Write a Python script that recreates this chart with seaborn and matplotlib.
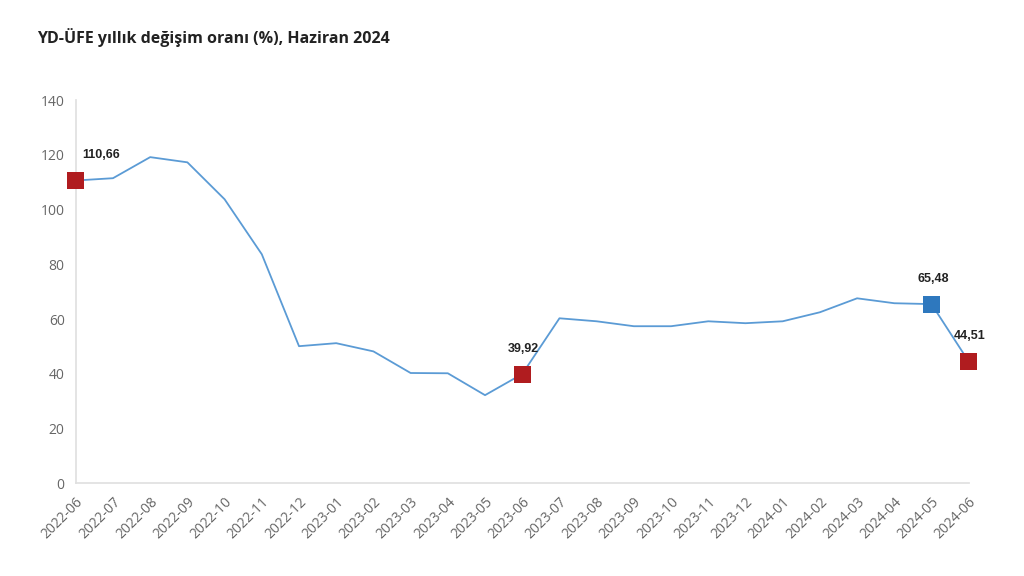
import pandas as pd
import matplotlib
matplotlib.use("Agg")
import matplotlib.pyplot as plt
import seaborn as sns

# Monthly YD-UFE annual change (%)
months = [
    "2022-06", "2022-07", "2022-08", "2022-09", "2022-10", "2022-11", "2022-12",
    "2023-01", "2023-02", "2023-03", "2023-04", "2023-05", "2023-06", "2023-07",
    "2023-08", "2023-09", "2023-10", "2023-11", "2023-12", "2024-01", "2024-02",
    "2024-03", "2024-04", "2024-05", "2024-06",
]
rates = [
    110.66, 111.5, 119.2, 117.3, 103.8, 83.7, 50.1,
    51.2, 48.2, 40.3, 40.2, 32.2, 39.92, 60.3,
    59.2, 57.4, 57.4, 59.2, 58.5, 59.2, 62.5,
    67.6, 65.8, 65.48, 44.51,
]

# highlighted months and their marker colours
marked_months = ["2022-06", "2023-06", "2024-05", "2024-06"]
marked_colors = ["#B01C1F", "#B01C1F", "#2E78BE", "#B01C1F"]
label_texts = ["110,66", "39,92", "65,48", "44,51"]

df = pd.DataFrame({"month": months, "rate": rates})
df["pos"] = range(len(df))
marks = df[df["month"].isin(marked_months)].copy()
marks["color"] = marked_colors
marks["label"] = label_texts

sns.set_theme(style="white")
plt.rcParams["font.family"] = ["Open Sans", "DejaVu Sans"]

fig = plt.figure(figsize=(10.24, 5.76), dpi=100)
ax = fig.add_axes([0.074, 0.161, 0.872, 0.665])

sns.lineplot(data=df, x="pos", y="rate", color="#5B9BD5", linewidth=1.3, ax=ax)
sns.scatterplot(data=marks, x="pos", y="rate", hue="color", palette=dict(zip(marked_colors, marked_colors)),
                marker="s", s=150, edgecolor="none", legend=False, ax=ax, zorder=5, clip_on=False)

for _, r in marks.iterrows():
    if r["pos"] == 0:
        ax.annotate(r["label"], (r["pos"], r["rate"]), xytext=(5, 14), textcoords="offset points",
                    ha="left", va="bottom", fontsize=9, fontweight="bold",
                    family="Liberation Sans", color="#222222")
    else:
        ax.annotate(r["label"], (r["pos"], r["rate"]), xytext=(1, 14), textcoords="offset points",
                    ha="center", va="bottom", fontsize=9, fontweight="bold",
                    family="Liberation Sans", color="#222222")

ax.set_xlim(0, len(months) - 1)
ax.set_ylim(0, 140)
ax.set_yticks(range(0, 141, 20))
ax.set_xticks(df["pos"])
ax.set_xticklabels(months, rotation=45, ha="right", rotation_mode="anchor")
ax.tick_params(axis="both", labelsize=10, colors="#666666", length=0, pad=8)
ax.set_xlabel("")
ax.set_ylabel("")

for side in ["top", "right"]:
    ax.spines[side].set_visible(False)
ax.spines["left"].set_color("#E0E0E0")
ax.spines["bottom"].set_color("#E0E0E0")

fig.text(0.036, 0.935, "YD-ÜFE yıllık değişim oranı (%), Haziran 2024",
         fontsize=11.5, fontweight="bold", color="#222222", ha="left", va="center")

fig.savefig("out.png", dpi=100, facecolor="white")
